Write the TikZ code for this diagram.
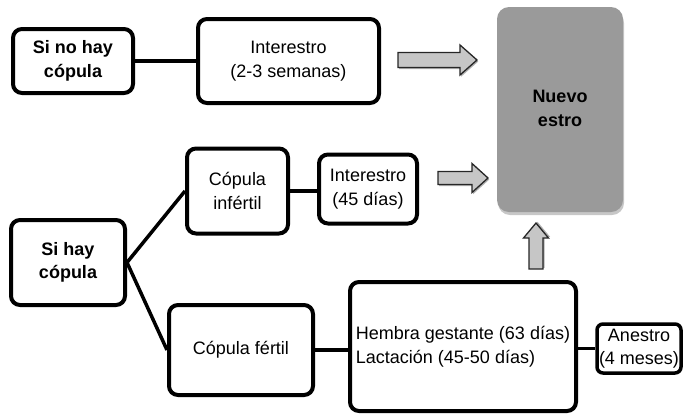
\documentclass[tikz,border=0pt]{standalone}
\usepackage{fontspec}
\setmainfont{Liberation Sans}
\usetikzlibrary{calc}

\definecolor{estrogray}{HTML}{9A9A9A}
\definecolor{arrowgray}{HTML}{C6C6C6}
\definecolor{shadegray}{HTML}{B0B0B0}

% Block arrow: #1 tail point, #2 rotation, #3 length,
% #4 half shaft width, #5 half head width, #6 head length
\newcommand\blockarrow[6]{%
  \begin{scope}[shift={#1},rotate=#2]
    \begin{scope}[shift={(1.2,1.6)}]
      \fill[shadegray] (0,-#4) -- (#3-#6,-#4) -- (#3-#6,-#5) -- (#3,0)
        -- (#3-#6,#5) -- (#3-#6,#4) -- (0,#4) -- cycle;
    \end{scope}
    \draw[blockarr] (0,-#4) -- (#3-#6,-#4) -- (#3-#6,-#5) -- (#3,0)
      -- (#3-#6,#5) -- (#3-#6,#4) -- (0,#4) -- cycle;
  \end{scope}}

\begin{document}
\begin{tikzpicture}[x=1pt,y=-1pt,
  box/.style={draw=black, line width=4pt, rounded corners=9pt, fill=white,
    align=center, inner sep=2pt, font=\fontsize{18}{23.5}\selectfont},
  boldbox/.style={box, font=\fontsize{18}{23.5}\selectfont\bfseries},
  link/.style={line width=3.5pt},
  blockarr/.style={draw=black!85, line width=1.3pt, fill=arrowgray, line join=miter}]

\useasboundingbox (0,0) rectangle (685,416);

% upper branch
\node[boldbox, minimum width=120pt, minimum height=64pt] (sinocop) at (73,61) {Si no hay\\cópula};
\node[box, minimum width=181pt, minimum height=84pt] (inter1) at (288.5,61) {Interestro\\(2-3 semanas)};

% lower branch
\node[boldbox, minimum width=114pt, minimum height=85pt] (sicop) at (68,262.5) {Si hay\\cópula};
\node[box, minimum width=101pt, minimum height=85pt] (infertil) at (237.5,191) {Cópula\\infértil};
\node[box, minimum width=98pt, minimum height=69pt, inner sep=1pt] (inter2) at (368,189) {Interestro\\(45 días)};
\node[box, minimum width=144pt, minimum height=90pt] (fertil) at (241,350) {Cópula fértil};
\node[box, minimum width=226pt, minimum height=129pt, align=left, inner sep=1pt] (hembra) at (463,346.5)
  {Hembra gestante (63 días)\\Lactación (45-50 días)};
\node[box, line width=3.5pt, rounded corners=6pt, minimum width=84pt, minimum height=49pt, inner sep=0pt] (anestro) at (639,348.5)
  {Anestro\\(4 meses)};

% new oestrus block with its soft shadow
\fill[black!22, rounded corners=12pt] (498,11) rectangle (624,215);
\node[fill=estrogray, rounded corners=12pt, minimum width=126pt, minimum height=205pt,
  inner sep=0pt, font=\fontsize{18}{24}\selectfont\bfseries] (nuevo) at (560,109.5)
  {\raisebox{5pt}{\begin{tabular}{@{}c@{}}Nuevo\\estro\end{tabular}}};

% connectors
\draw[link] (sinocop.east) -- (inter1.west);
\draw[link] (sicop.east) -- (infertil.west);
\draw[link] (sicop.east) -- (fertil.west);
\draw[link] (infertil.east) -- (infertil.east -| inter2.west);
\draw[link] (fertil.east) -- (fertil.east -| hembra.west);
\draw[link] (anestro.west -| hembra.east) -- (anestro.west);

% block arrows pointing to the new oestrus
\blockarrow{(398,60)}{0}{79}{7.5}{15}{17}
\blockarrow{(438,178)}{0}{50}{6.5}{14.5}{16}
\blockarrow{(536,269)}{90}{46}{7}{12.5}{15}

\end{tikzpicture}
\end{document}
